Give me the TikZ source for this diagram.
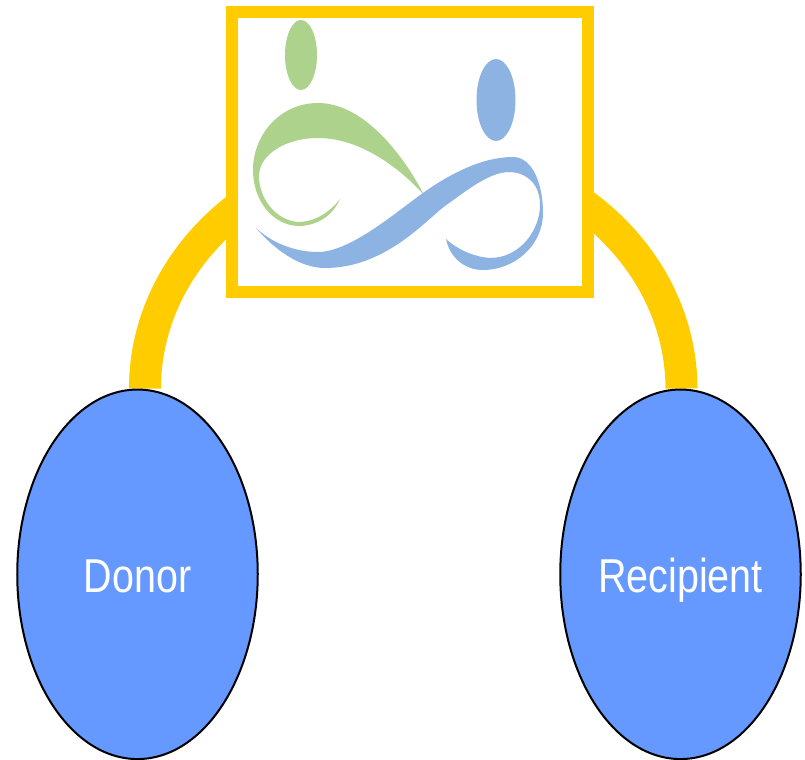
\documentclass[tikz,border=0pt]{standalone}
\usepackage{fontspec}
\setmainfont{Liberation Sans}
\usetikzlibrary{shapes.geometric,backgrounds}
\definecolor{linkgold}{HTML}{FFCC00}
\definecolor{partyblue}{HTML}{6699FF}
\definecolor{logogreen}{HTML}{ADD28C}
\definecolor{logoblue}{HTML}{8DB3E2}
\tikzset{
  party/.style={ellipse,draw=black,line width=2bp,fill=partyblue,text=white,
    minimum width=240.5bp,minimum height=369.5bp,inner sep=0pt,
    text height=35.5bp,text depth=0bp,font=\fontsize{47.7}{50}\selectfont},
  logobox/.style={rectangle,draw=linkgold,line width=12bp,fill=white,
    minimum width=356bp,minimum height=280bp,inner sep=0pt},
  link/.style={draw=linkgold,line width=32bp},
}
\begin{document}
\begin{tikzpicture}[x=1bp,y=-1bp]
%%
\useasboundingbox (0,0) rectangle (805,760);
\node (node_logo) at (410,152) [logobox] {};
\node (node_donor) at (137.5,574.3) [party] {\scalebox{.83}[1]{Donor}};
\node (node_recipient) at (680.5,574.3) [party] {\scalebox{.83}[1]{Recipient}};
\begin{pgfonlayer}{background}
  \draw [link] ([xshift=7.5bp]node_donor.north) ..controls (145,257) and (265,150) .. (413,150)
    ..controls (561,150) and (681,257) .. ([xshift=1bp]node_recipient.north);
\end{pgfonlayer}
%% logo
\fill [logogreen] (301,55) ellipse (16 and 35);
\fill [logoblue] (496,100) ellipse (19.5 and 41);
\fill [logogreen] (424,195) ..controls (405,158) and (365,103) .. (318,103)
  ..controls (280,103) and (253,135) .. (253,170)
  ..controls (253,200) and (272,225) .. (298,226)
  ..controls (318,226) and (333,215) .. (340,199)
  ..controls (330,212) and (315,222) .. (298,222)
  ..controls (275,220) and (259,198) .. (259,176)
  ..controls (259,155) and (285,138) .. (318,138)
  ..controls (360,138) and (400,168) .. (424,195) -- cycle;
\fill [logoblue] (256,228) ..controls (272,243) and (295,252) .. (318,252)
  ..controls (350,252) and (395,213) .. (423,193)
  ..controls (451,173) and (483,157) .. (513,157)
  ..controls (533,157) and (543,185) .. (543,213)
  ..controls (543,245) and (515,270) .. (483,270)
  ..controls (465,270) and (450,258) .. (446,239)
  ..controls (458,250) and (475,257) .. (490,258)
  ..controls (520,258) and (540,230) .. (540,205)
  ..controls (540,185) and (528,173) .. (510,172)
  ..controls (490,172) and (470,188) .. (445,206)
  ..controls (425,221) and (385,268) .. (325,268)
  ..controls (300,268) and (275,250) .. (256,228) -- cycle;
%
\end{tikzpicture}
\end{document}
